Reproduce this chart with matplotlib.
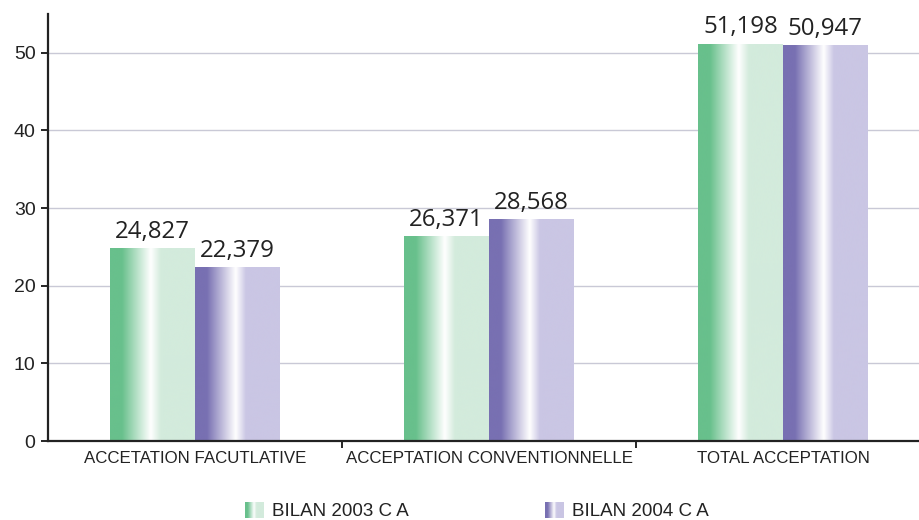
#!/usr/bin/env python3
"""Bilan 2003 vs 2004 acceptations, gradient bar chart."""

import matplotlib
matplotlib.use("Agg")
import matplotlib.pyplot as plt
import numpy as np
from matplotlib.colors import LinearSegmentedColormap, to_rgb

categories = ["ACCETATION FACUTLATIVE", "ACCEPTATION CONVENTIONNELLE", "TOTAL ACCEPTATION"]
series_names = ["BILAN 2003 C A", "BILAN 2004 C A"]
values_2003 = [24.827, 26.371, 51.198]
values_2004 = [22.379, 28.568, 50.947]
value_labels_2003 = ["24,827", "26,371", "51,198"]
value_labels_2004 = ["22,379", "28,568", "50,947"]
yticks = [0, 10, 20, 30, 40, 50]


def gradient_cmap(dark, light):
    d, l = to_rgb(dark), to_rgb(light)
    stops = [(0.0, d), (0.14, d), (0.48, (1, 1, 1)), (0.6, l), (1.0, l)]
    return LinearSegmentedColormap.from_list("g", stops)


green = gradient_cmap("#68c08c", "#d3ebdc")
purple = gradient_cmap("#7870b2", "#cac6e4")
grad = np.linspace(0, 1, 256).reshape(1, -1)

fig = plt.figure(figsize=(9.19, 5.2), dpi=100)
ax = fig.add_axes([48 / 919, 79 / 520, 1 - 48 / 919, 427 / 520])

x = np.arange(len(categories))
width = 0.288

for vals, labels, cmap, offset in [
    (values_2003, value_labels_2003, green, -width / 2),
    (values_2004, value_labels_2004, purple, width / 2),
]:
    bars = ax.bar(x + offset, vals, width=width, color="none", edgecolor="none", zorder=2)
    for bar, lab in zip(bars, labels):
        x0, w, h = bar.get_x(), bar.get_width(), bar.get_height()
        im = ax.imshow(grad, cmap=cmap, aspect="auto", extent=(x0, x0 + w, 0, h),
                       interpolation="bicubic", zorder=2)
        im.set_clip_path(bar)
        ax.text(x0 + w / 2, h + 0.6, lab, ha="center", va="bottom",
                fontsize=17.3, family="Open Sans", color="#222222", zorder=3)

ax.set_xlim(-0.5, 2.5 - 11 / 294)
ax.set_ylim(0, 55)

ax.set_yticks(yticks)
ax.set_yticklabels([str(t) for t in yticks], fontsize=14, family="Liberation Sans", color="#222222")
ax.tick_params(axis="y", length=5, width=1.2, pad=4)
ax.yaxis.grid(True, color="#c9c9d6", linewidth=1.0, zorder=0)
ax.set_axisbelow(True)

ax.set_xticks([0.5, 1.5])
ax.set_xticklabels([])
ax.tick_params(axis="x", length=5, width=1.2)
for xi, cat in zip(x, categories):
    ax.text(xi, -1.3, cat, ha="center", va="top", fontsize=12.2,
            family="Liberation Sans", color="#222222")

for side in ["top", "right"]:
    ax.spines[side].set_visible(False)
for side in ["left", "bottom"]:
    ax.spines[side].set_linewidth(1.6)
    ax.spines[side].set_color("#222222")

# legend with gradient swatches
for name, cmap, px in [(series_names[0], green, 245), (series_names[1], purple, 545)]:
    sw = fig.add_axes([px / 919, 2 / 520, 19 / 919, 16 / 520])
    sw.imshow(grad, cmap=cmap, aspect="auto", interpolation="bicubic")
    sw.set_axis_off()
    fig.text((px + 27) / 919, 9 / 520, name, ha="left", va="center",
             fontsize=13.5, family="Liberation Sans", color="#222222")

fig.savefig("out.png", dpi=100)
plt.close(fig)
